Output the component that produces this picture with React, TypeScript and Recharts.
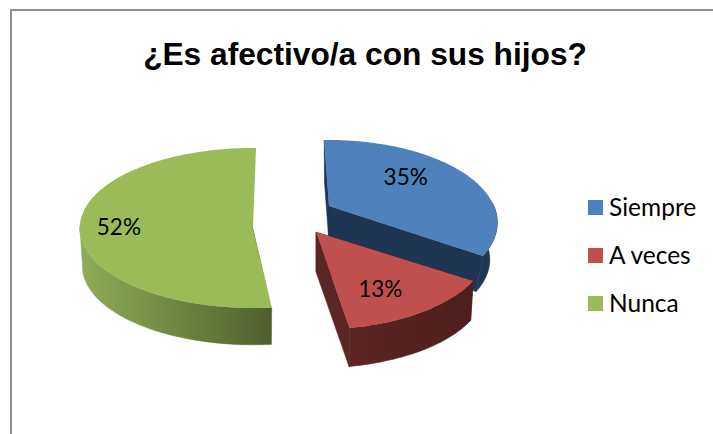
import { PieChart, Pie, Legend } from 'recharts';

const categories = ['Siempre', 'A veces', 'Nunca'];
const percents = [35, 13, 52];
const colors = ['#4F81BD', '#C0504D', '#9BBB59'];
const TITLE = '¿Es afectivo/a con sus hijos?';

const data = categories.map((name, i) => ({ name, value: percents[i], fill: colors[i] }));

// per slice look of the fake 3D: explode offset, squash, perspective, label spot
const looks: Record<string, any> = {
  Siempre: { dx: 39, dy: -14, rx: 1.0, ry: 0.48, k: 0.2, rot: 0, depth: 38, shrink: 0.955, wall: '#1F3552', rim: ['#1F3552', '#1F3552'], label: 0.56, ldx: 0, ldy: -9 },
  'A veces': { dx: 26, dy: 12, rx: 1.02, ry: 0.473, k: 0.2, rot: 0, depth: 40, shrink: 0.985, wall: '#5B2624', rim: ['#5C2524', '#4C1E1D'], label: 0.66, ldx: -3, ldy: 8 },
  Nunca: { dx: -37, dy: 8, rx: 1.05, ry: 0.485, k: 0, rot: -3, depth: 38, shrink: 0.985, wall: '#8AA850', rim: ['#90AD58', '#4F5F2C'], label: 0.775, ldx: 0, ldy: -4, sliver: true },
};

const RAD = Math.PI / 180;

function project(look: any, cx: number, cy: number, r: number, deg: number, t = 1) {
  const u = Math.cos((deg + look.rot) * RAD) * t;
  const v = Math.sin((deg + look.rot) * RAD) * t;
  const s = 1 / (1 + look.k * v);
  return { x: cx + look.dx + r * look.rx * u * s, y: cy + look.dy - r * look.ry * v * s };
}

const toPath = (pts: { x: number; y: number }[]) =>
  'M' + pts.map((p) => `${p.x.toFixed(1)},${p.y.toFixed(1)}`).join('L') + 'Z';

function Slice3D(props: any) {
  const { cx, cy, outerRadius, startAngle, endAngle, fill, name } = props;
  const look = looks[name ?? props.payload?.name];
  const apex = { x: cx + look.dx, y: cy + look.dy };
  const arc: { x: number; y: number }[] = [];
  const front: { x: number; y: number }[] = []; // only the part of the rim that faces us
  const steps = Math.ceil(Math.abs(startAngle - endAngle));
  for (let i = 0; i <= steps; i++) {
    const deg = startAngle + ((endAngle - startAngle) * i) / steps;
    const p = project(look, cx, cy, outerRadius, deg);
    arc.push(p);
    if (p.y >= apex.y - 3) front.push(p);
  }
  const lower = (p: { x: number; y: number }) => ({
    x: apex.x + (p.x - apex.x) * look.shrink,
    y: apex.y + (p.y - apex.y) * look.shrink + look.depth,
  });
  const first = arc[0];
  const last = arc[arc.length - 1];
  const downApex = lower(apex);
  const gradId = `rim-${props.index ?? name}`;
  return (
    <g>
      <defs>
        <linearGradient id={gradId} x1="0" y1="0" x2="1" y2="0">
          <stop offset="0" stopColor={look.rim[0]} />
          <stop offset="1" stopColor={look.rim[1]} />
        </linearGradient>
      </defs>
      {!look.sliver && <path d={toPath([apex, first, lower(first), downApex])} fill={look.wall} stroke={look.wall} strokeWidth={0.5} />}
      {!look.sliver && <path d={toPath([apex, last, lower(last), downApex])} fill={look.wall} stroke={look.wall} strokeWidth={0.5} />}
      <path d={toPath([...front, ...front.map(lower).reverse()])} fill={`url(#${gradId})`} stroke={`url(#${gradId})`} strokeWidth={0.5} />
      <path d={toPath([apex, ...arc])} fill={fill} />
      {look.sliver && <path d={toPath([first, apex, { x: apex.x - 3, y: apex.y - 8 }])} fill={look.wall} />}
    </g>
  );
}

function renderLabel(props: any) {
  const { cx, cy, outerRadius, midAngle, percent, name } = props;
  const look = looks[name ?? props.payload?.name];
  const p = project(look, cx, cy, outerRadius, midAngle, look.label);
  return (
    <text x={p.x + look.ldx} y={p.y + look.ldy} textAnchor="middle" dominantBaseline="central" fontFamily="Lato" fontSize={22.5} fill="#000">
      {`${Math.round(percent * 100)}%`}
    </text>
  );
}

function renderLegend({ payload }: any) {
  return (
    <div>
      {(payload ?? []).map((item: any) => (
        <div key={item.value} style={{ display: 'flex', alignItems: 'center', height: 48 }}>
          <span style={{ width: 15, height: 15, background: item.color, marginRight: 6 }} />
          <span style={{ fontFamily: 'Lato', fontSize: 24.5, color: '#000', position: 'relative', top: -1 }}>{item.value}</span>
        </div>
      ))}
    </div>
  );
}

export default function App() {
  return (
    <div style={{ position: 'absolute', left: 0, top: 0, width: 713, height: 434, overflow: 'hidden', background: '#fff' }}>
      <div style={{ position: 'absolute', left: 10, top: 9, right: 0, bottom: 0, borderLeft: '2px solid #8f8f8f', borderTop: '2px solid #8f8f8f' }} />
      <PieChart width={713} height={434} margin={{ top: 0, right: 0, bottom: 0, left: 0 }} style={{ position: 'absolute', left: 0, top: 0 }}>
        <text x={365} y={65} textAnchor="middle" fontFamily="Liberation Sans" fontWeight="bold" fontSize={31.7} fill="#000">
          {TITLE}
        </text>
        <Pie
          data={data}
          dataKey="value"
          nameKey="name"
          cx={290}
          cy={220}
          outerRadius={165}
          startAngle={92}
          endAngle={-268}
          stroke="none"
          isAnimationActive={false}
          shape={Slice3D}
          label={renderLabel}
          labelLine={false}
        />
        <Legend
          layout="vertical"
          align="right"
          verticalAlign="top"
          itemSorter={null}
          content={renderLegend}
          wrapperStyle={{ position: 'absolute', left: 588, top: 183, width: 122 }}
        />
      </PieChart>
    </div>
  );
}
